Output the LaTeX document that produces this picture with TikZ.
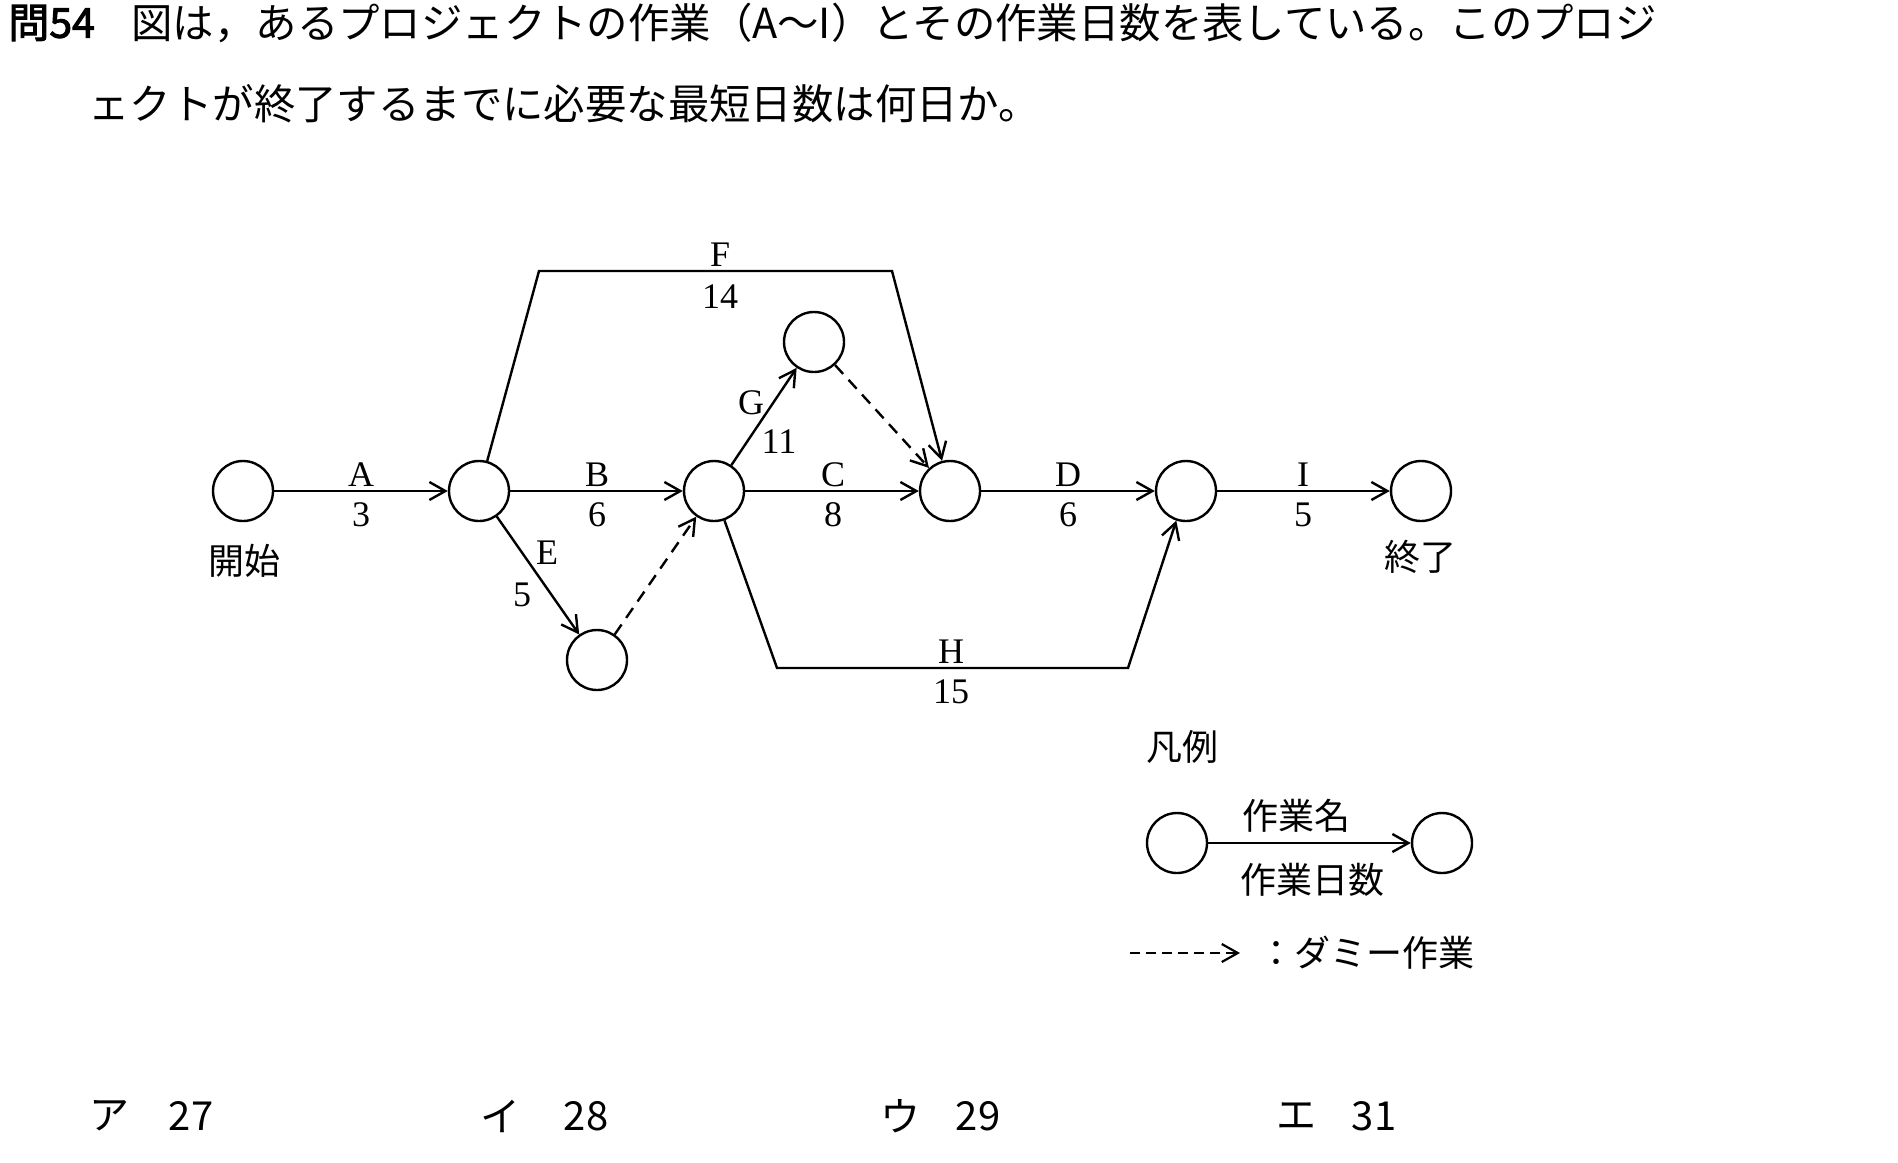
\documentclass[tikz,border=0pt]{standalone}
\usepackage{fontspec}
\newfontfamily\jp{Noto Sans CJK JP}
\newfontfamily\jpb[FakeBold=2.5]{Noto Sans CJK JP}
\newfontfamily\lser{Liberation Serif}
\usetikzlibrary{arrows.meta}
\begin{document}
\begin{tikzpicture}[x=0.5pt,y=-0.5pt,
  ev/.style={circle,draw,line width=1.2pt,minimum size=30pt,inner sep=0pt},
  act/.style={line width=1.2pt,-{Straight Barb[length=8pt,width=9pt]}},
  dum/.style={act,dash pattern=on 6pt off 4pt},
  lbl/.style={font=\lser\fontsize{18}{18}\selectfont,inner sep=0pt},
  jl/.style={font=\jp\fontsize{18}{18}\selectfont,inner sep=0pt},
  ttl/.style={font=\jp\fontsize{20.7}{20.7}\selectfont,inner sep=0pt,anchor=west},
  ans/.style={font=\jp\fontsize{20}{20}\selectfont,inner sep=0pt},
]
\useasboundingbox[fill=white] (0,0) rectangle (1898,1162);

% title
\node[ttl,font=\jpb\fontsize{20.5}{20.5}\selectfont] (q) at (8,23) {問54};
\node[ttl] (t1) at (131,23) {図は，あるプロジェクトの作業（A～I）とその作業日数を表している。このプロジ};
\node[ttl] (t2) at (88,104) {ェクトが終了するまでに必要な最短日数は何日か。};

% events
\node[ev] (S) at (243,491) {};
\node[ev] (N2) at (479,491) {};
\node[ev] (N3) at (714,491) {};
\node[ev] (N4) at (950,491) {};
\node[ev] (N5) at (1186,491) {};
\node[ev] (T) at (1421,491) {};
\node[ev] (G) at (814,342) {};
\node[ev] (E) at (597,660) {};

% bends
\coordinate (f1) at (539,271);
\coordinate (f2) at (892,271);
\coordinate (h1) at (777,668);
\coordinate (h2) at (1128,668);

% activities
\draw[act] (S) -- (N2);
\draw[act] (N2) -- (N3);
\draw[act] (N3) -- (N4);
\draw[act] (N4) -- (N5);
\draw[act] (N5) -- (T);
\draw[act] (N2) -- (f1) -- (f2) -- (N4);
\draw[act] (N3) -- (h1) -- (h2) -- (N5);
\draw[act] (N3) -- (G);
\draw[act] (N2) -- (E);
\draw[dum] (E) -- (N3);
\draw[dum] (G) -- (N4);

% labels
\node[lbl] (lA) at (361,475) {A};  \node[lbl] (dA) at (361,515) {3};
\node[lbl] (lB) at (597,475) {B};  \node[lbl] (dB) at (597,515) {6};
\node[lbl] (lC) at (833,475) {C};  \node[lbl] (dC) at (833,515) {8};
\node[lbl] (lD) at (1068,475) {D}; \node[lbl] (dD) at (1068,515) {6};
\node[lbl] (lI) at (1303,475) {I}; \node[lbl] (dI) at (1303,515) {5};
\node[lbl] (lF) at (720,255) {F};  \node[lbl] (dF) at (720,297) {14};
\node[lbl] (lH) at (951,652) {H};  \node[lbl] (dH) at (951,692) {15};
\node[lbl] (lG) at (751,403) {G};  \node[lbl] (dG) at (779,442) {11};
\node[lbl] (lE) at (547,553) {E};  \node[lbl] (dE) at (522,595) {5};

\node[jl] (st) at (244,561) {開始};
\node[jl] (en) at (1420,557) {終了};

% legend
\node[jl] (hr) at (1182,747) {凡例};
\node[ev] (L1) at (1177,843) {};
\node[ev] (L2) at (1442,843) {};
\draw[act] (L1) -- (L2);
\node[jl] (ln) at (1296,816) {作業名};
\node[jl] (ld) at (1312,880) {作業日数};
\coordinate (d1) at (1130,953);
\coordinate (d2) at (1240,953);
\draw[dum,line width=1.1pt,dash pattern=on 5pt off 3pt] (d1) -- (d2);
\node[jl,anchor=west] (dl) at (1258,953) {：ダミー作業};

% answers
\node[ans] (a1) at (109,1116) {ア};  \node[ans] (a1n) at (191,1116) {27};
\node[ans] (a2) at (500,1116) {イ};  \node[ans] (a2n) at (586,1116) {28};
\node[ans] (a3) at (900,1116) {ウ};  \node[ans] (a3n) at (978,1116) {29};
\node[ans] (a4) at (1296,1116) {エ}; \node[ans] (a4n) at (1374,1116) {31};
\end{tikzpicture}
\end{document}
